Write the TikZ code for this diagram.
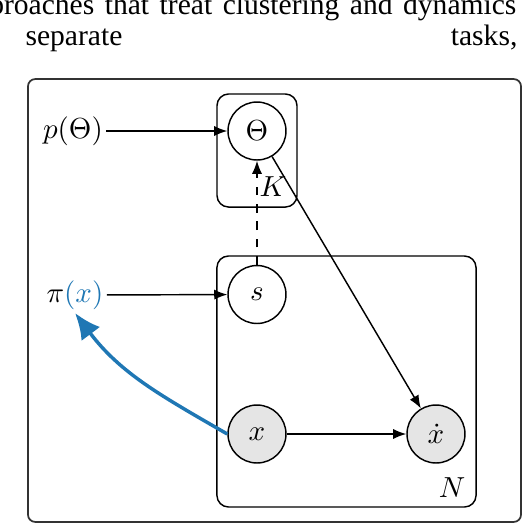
\documentclass[tikz,border=0pt]{standalone}
\usepackage{fontspec}
\newfontfamily\timesfont{Liberation Serif}
\usetikzlibrary{arrows.meta}
\definecolor{mplblue}{HTML}{1F77B4}
\begin{document}
\begin{tikzpicture}[x=0.345pt,y=-0.345pt,
  latent/.style={circle,draw,line width=0.5pt,minimum size=20pt,inner sep=1pt},
  obs/.style={latent,fill=gray!20},
  plate/.style={draw,rounded corners=4pt,line width=0.5pt,inner sep=0pt},
  lbl/.style={inner sep=1pt},
  arr/.style={-{Latex[length=4.5pt,width=3.5pt]},line width=0.5pt},
  bluearr/.style={-{Latex[length=9pt,width=8pt]},line width=1.2pt,draw=mplblue},
  txt/.style={font=\timesfont\fontsize{10.2}{12}\selectfont,inner sep=0pt}]
\useasboundingbox (0,0) rectangle (524,524);
\clip (0,0) rectangle (524,524);
% surrounding text
\node[txt,anchor=base east] (line1) at (517,14) {\makebox[191.5pt][s]{approaches that treat clustering and dynamics}};
\node[txt,anchor=base west] (w1) at (25,45) {separate};
\node[txt,anchor=base east] (w2) at (518,45) {tasks,};
% frame
\node[draw=black!80,line width=0.6pt,rounded corners=2.5pt,minimum width=170.1pt,minimum height=152.8pt,inner sep=0pt] (frame) at (274.5,300.5) {};
% plates
\node[plate,minimum width=27.6pt,minimum height=39pt] (plateK) at (257,150.5) {};
\node[plate,minimum width=89.4pt,minimum height=86.6pt] (plateN) at (346.5,381.5) {};
\node[lbl] (labK) at (273,187) {$K$};
\node[lbl] (labN) at (452,488) {$N$};
% nodes
\node[latent] (theta) at (257,131) {$\Theta$};
\node[latent] (s) at (257,294.5) {$s$};
\node[obs] (x) at (257,434) {$x$};
\node[obs] (xd) at (436,434) {$\dot{x}$};
\node[lbl] (ptheta) at (73,131) {$p(\Theta)$};
\node[lbl] (pix) at (75,295) {$\pi{\color{mplblue}(x)}$};
% edges
\draw[arr] (ptheta) -- (theta);
\draw[arr] (pix) -- (s);
\draw[arr,dashed] (s) -- (theta);
\draw[arr] (theta) -- (xd);
\draw[arr] (x) -- (xd);
\draw[bluearr] (x.west) to[out=150,in=-53] (pix.south);
\end{tikzpicture}
\end{document}
